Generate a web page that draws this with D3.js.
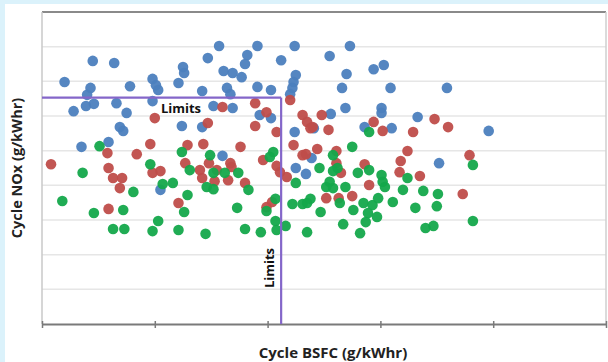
<!DOCTYPE html>
<html><head><meta charset="utf-8">
<script src="https://cdn.jsdelivr.net/npm/d3@7"></script>
<style>
html,body{margin:0;padding:0;background:#dbf2fb;}
svg{display:block;}
</style></head>
<body>
<svg id="chart" width="608" height="362"></svg>
<script>
// Data (arbitrary units: x ticks 0..5, y gridlines 0..9)
const xTicks = [0,1,2,3,4,5];
const yTicks = [0,1,2,3,4,5,6,7,8,9];
const limitNOx = 6.53;
const limitBSFC = 2.12;
const blueX = [0.20,0.45,0.64,0.43,0.40,0.39,0.46,0.28,0.66,0.78,0.75,0.69,0.72,0.98,1.01,1.03,0.98,1.25,1.26,1.21,1.24,1.42,1.42,1.47,1.57,1.91,2.24,1.61,1.69,1.77,1.82,1.80,1.64,1.67,1.91,2.03,2.12,2.25,2.23,2.22,2.20,1.52,1.69,1.93,2.03,2.24,2.55,2.73,2.70,2.94,3.03,2.66,3.09,3.59,2.69,3.01,3.01,2.56,3.33,2.86,3.10,3.96,3.52,2.41,2.25,2.34,2.39,0.35,0.59,1.05,1.60];
const blueY = [6.98,7.59,7.53,6.81,6.61,6.29,6.35,6.14,6.37,6.86,6.09,5.68,5.57,7.07,6.89,6.75,6.43,7.41,7.24,6.95,5.71,5.68,6.72,7.67,8.02,8.02,8.02,7.30,7.24,7.12,7.76,7.50,6.81,6.63,6.84,6.75,7.61,7.18,6.98,6.81,6.63,6.29,6.23,6.03,5.94,5.54,7.73,8.02,7.21,7.35,7.47,6.81,6.81,6.81,6.23,6.23,6.09,6.06,5.97,5.68,5.65,5.57,4.64,5.65,4.50,4.33,4.79,5.11,5.25,3.87,4.85];
const redX = [0.08,0.58,0.59,0.84,0.96,1.00,1.29,1.43,1.47,1.89,1.76,1.89,1.99,2.08,2.20,2.23,1.96,1.48,1.55,1.67,1.40,1.27,0.98,1.60,2.31,2.35,2.40,2.48,2.54,2.38,2.94,3.02,3.29,3.48,3.60,2.44,2.61,2.34,3.24,3.18,2.86,2.61,2.65,3.17,3.35,3.79,2.75,2.90,3.73,2.52,2.63,0.63,0.71,0.69,0.59,1.05,1.21,1.68,1.42,1.53,1.65,1.80,2.08,2.11,2.31,2.17,2.04,1.99];
const redY = [4.61,4.93,4.50,4.90,5.19,5.94,5.16,5.19,5.80,5.71,5.11,6.37,6.11,5.54,6.46,5.16,4.73,4.64,4.44,4.64,4.44,4.64,4.36,6.26,6.03,5.83,5.68,6.03,5.60,5.65,5.83,5.57,5.54,5.91,5.68,5.05,4.99,4.90,4.99,4.70,4.61,4.64,4.36,4.38,4.27,4.87,3.69,4.01,3.75,3.63,3.63,4.21,4.21,3.92,3.32,4.41,3.49,4.53,4.21,4.12,4.15,4.07,4.56,4.38,4.87,4.24,3.52,3.37];
const greenX = [0.51,0.36,0.96,1.24,1.49,1.31,1.52,1.74,2.05,2.02,0.18,0.46,0.72,0.81,0.63,0.73,0.98,1.03,1.21,1.29,1.26,1.45,1.73,1.80,1.94,1.99,2.07,2.08,2.16,2.07,2.22,2.31,1.46,1.52,1.83,1.07,1.16,1.62,2.35,2.38,2.25,2.46,2.47,2.52,2.55,2.58,2.62,2.58,2.35,2.67,2.90,2.75,2.58,2.80,2.90,3.01,3.82,2.69,3.02,3.04,3.24,3.20,3.38,3.51,3.50,2.64,2.76,2.85,2.93,2.98,3.11,3.31,2.89,2.97,2.87,2.82,3.40,3.47,3.82];
const greenY = [5.13,4.36,4.61,4.96,4.87,4.44,4.36,4.36,4.96,4.82,3.55,3.20,3.29,3.81,2.74,2.74,2.68,2.97,2.71,3.72,3.23,2.60,3.35,2.74,2.65,3.26,2.97,2.71,2.83,3.61,3.46,3.46,3.95,3.89,3.87,4.04,4.07,4.36,3.49,3.61,4.07,4.50,3.23,3.95,4.10,3.92,4.50,4.87,2.65,2.88,5.54,5.11,4.41,4.36,4.44,4.30,4.59,3.95,4.10,3.95,4.21,3.87,3.84,3.75,3.40,3.49,3.29,3.49,3.43,3.63,3.52,3.35,3.20,3.09,2.94,2.62,2.77,2.83,2.97];

const svg = d3.select("#chart");
const W = 608, H = 362;
svg.append("rect").attr("x",5).attr("y",4).attr("width",W-5).attr("height",H-4).attr("fill","#ffffff");

const m = {left:42, top:12, right:606, bottom:324};
const x = d3.scaleLinear().domain([0,5]).range([m.left, m.right]);
const y = d3.scaleLinear().domain([0,9]).range([m.bottom, m.top]);

// gridlines
svg.append("g").selectAll("line").data(yTicks.slice(1,-1)).join("line")
  .attr("x1",m.left).attr("x2",m.right)
  .attr("y1",d=>y(d)).attr("y2",d=>y(d))
  .attr("stroke","#e6e6e6").attr("stroke-width",1.5);

// frame: top (dark), right (light), left (light)
svg.append("line").attr("x1",m.left).attr("x2",m.right).attr("y1",m.top).attr("y2",m.top)
  .attr("stroke","#8a8a8a").attr("stroke-width",2);
svg.append("line").attr("x1",m.right).attr("x2",m.right).attr("y1",m.top).attr("y2",m.bottom)
  .attr("stroke","#cfcfcf").attr("stroke-width",1.5);
svg.append("line").attr("x1",m.left).attr("x2",m.left).attr("y1",m.top).attr("y2",m.bottom)
  .attr("stroke","#c8c8c8").attr("stroke-width",1.5);

// points
function dots(xs, ys, color){
  svg.append("g").selectAll("circle").data(xs.map((v,i)=>[v,ys[i]])).join("circle")
    .attr("cx",d=>x(d[0])).attr("cy",d=>y(d[1])).attr("r",5.3)
    .attr("fill",color).attr("fill-opacity",0.95);
}
dots(blueX, blueY, "#4c7fbe");
dots(redX, redY, "#bf4d4a");
dots(greenX, greenY, "#14a84b");

// x axis
const xAxis = d3.axisBottom(x).tickValues(xTicks).tickFormat("").tickSize(4).tickSizeOuter(0);
const gx = svg.append("g").attr("transform",`translate(0,${m.bottom})`).call(xAxis);
gx.select(".domain").attr("stroke","#7a7a7a").attr("stroke-width",2);
gx.selectAll(".tick line").attr("stroke","#7a7a7a").attr("stroke-width",1.5).attr("y1",-3);

// limit lines
const purple = "#8466c9";
svg.append("line").attr("x1",m.left).attr("x2",x(limitBSFC)).attr("y1",y(limitNOx)).attr("y2",y(limitNOx))
  .attr("stroke",purple).attr("stroke-width",2.2);
svg.append("line").attr("x1",x(limitBSFC)).attr("x2",x(limitBSFC)).attr("y1",y(limitNOx)).attr("y2",m.bottom)
  .attr("stroke",purple).attr("stroke-width",2.2);

const font = "'Open Sans', Lato, sans-serif";
svg.append("text").attr("x",181).attr("y",112.5).attr("text-anchor","middle")
  .attr("font-family",font).attr("font-weight","bold").attr("font-size",13).attr("fill","#111")
  .text("Limits");
svg.append("text").attr("transform","translate(274,268) rotate(-90)").attr("text-anchor","middle")
  .attr("font-family",font).attr("font-weight","bold").attr("font-size",13).attr("fill","#111")
  .text("Limits");

// axis titles
svg.append("text").attr("x",333).attr("y",358).attr("text-anchor","middle")
  .attr("font-family",font).attr("font-weight","bold").attr("font-size",15).attr("fill","#222")
  .text("Cycle BSFC (g/kWhr)");
svg.append("text").attr("transform","translate(22,168) rotate(-90)").attr("text-anchor","middle")
  .attr("font-family",font).attr("font-weight","bold").attr("font-size",14.5).attr("fill","#222")
  .text("Cycle NOx (g/kWhr)");
</script>
</body></html>
